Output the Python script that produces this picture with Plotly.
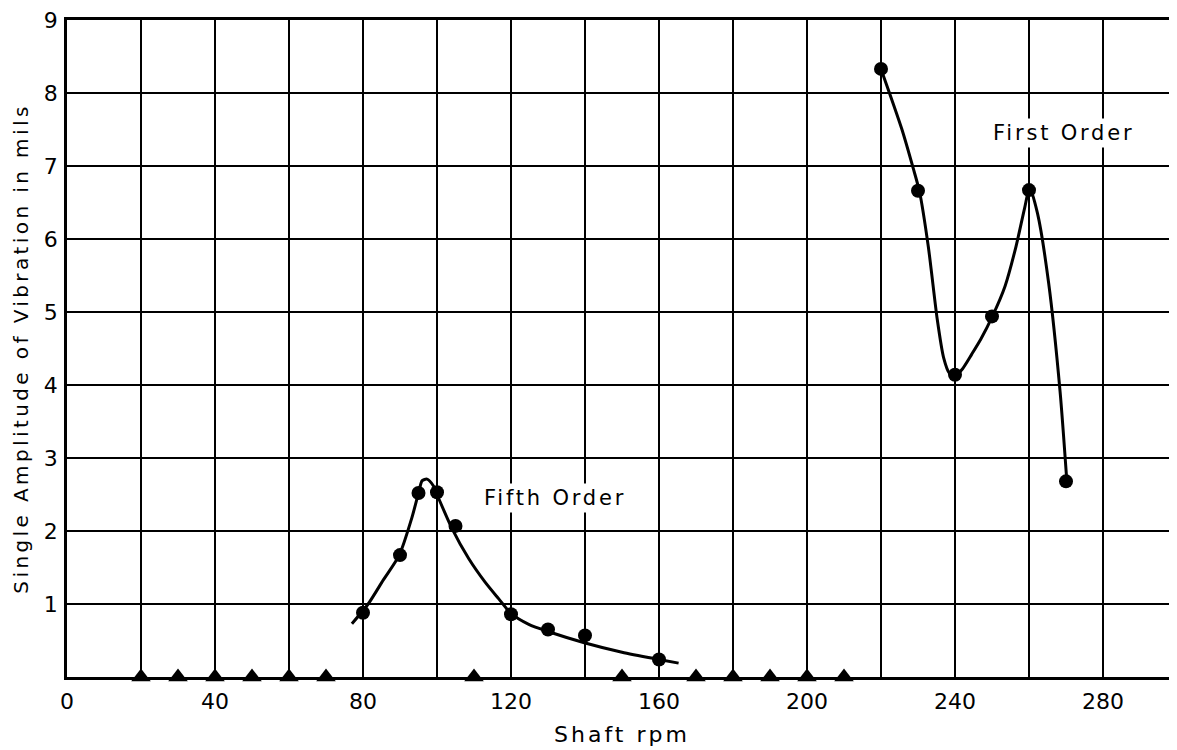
import plotly.graph_objects as go

# ---- data ----
fifth_rpm = [80, 90, 95, 100, 105, 120, 130, 140, 160]
fifth_amp = [0.88, 1.67, 2.52, 2.53, 2.07, 0.86, 0.65, 0.57, 0.24]

fifth_curve_rpm = [77.0, 81.4, 85.5, 89.8, 93.2, 95.0, 96.0, 97.3, 99.0, 100.0, 104.0,
                   108.6, 113.0, 116.7, 120.0, 124.8, 130.2, 139.8, 150.0, 160.0, 165.3]
fifth_curve_amp = [0.73, 1.00, 1.33, 1.67, 2.18, 2.52, 2.69, 2.71, 2.62, 2.50, 2.04,
                   1.62, 1.30, 1.07, 0.87, 0.72, 0.62, 0.47, 0.34, 0.24, 0.19]

first_rpm = [220, 230, 240, 250, 260, 270]
first_amp = [8.33, 6.66, 4.14, 4.94, 6.67, 2.68]

first_curve_rpm = [220.0, 225.6, 228.7, 230.4, 232.8, 235.2, 236.9, 238.5, 240.0, 242.0,
                   244.5, 247.0, 250.1, 253.5, 256.5, 258.8, 260.2, 262.3, 265.3,
                   268.4, 270.2]
first_curve_amp = [8.33, 7.51, 6.97, 6.65, 5.89, 4.90, 4.38, 4.16, 4.12, 4.22,
                   4.42, 4.63, 4.94, 5.35, 5.90, 6.42, 6.70, 6.35, 5.40,
                   3.91, 2.70]

zero_rpm = [20, 30, 40, 50, 60, 70, 110, 150, 170, 180, 190, 200, 210]
zero_amp = [0, 0, 0, 0, 0, 0, 0, 0, 0, 0, 0, 0, 0]

x_tickvals = [0, 20, 40, 60, 80, 100, 120, 140, 160, 180, 200, 220, 240, 260, 280]
x_ticktext = ["0", "", "40", "", "80", "", "120", "", "160", "", "200", "", "240", "", "280"]
y_tickvals = [1, 2, 3, 4, 5, 6, 7, 8, 9]
y_ticktext = ["1", "2", "3", "4", "5", "6", "7", "8", "9"]

labels = ["Fifth Order", "First Order"]
label_rpm = [131.8, 269.3]
label_amp = [2.45, 7.45]

FONT = "DejaVu Sans"
INK = "black"

fig = go.Figure()

fig.add_trace(go.Scatter(x=fifth_curve_rpm, y=fifth_curve_amp, mode="lines",
                         line=dict(color=INK, width=3, shape="spline", smoothing=0.7),
                         hoverinfo="skip", showlegend=False))
fig.add_trace(go.Scatter(x=first_curve_rpm, y=first_curve_amp, mode="lines",
                         line=dict(color=INK, width=3, shape="spline", smoothing=0.7),
                         hoverinfo="skip", showlegend=False))
fig.add_trace(go.Scatter(x=fifth_rpm, y=fifth_amp, mode="markers",
                         marker=dict(symbol="circle", size=14, color=INK),
                         name="Fifth Order", showlegend=False))
fig.add_trace(go.Scatter(x=first_rpm, y=first_amp, mode="markers",
                         marker=dict(symbol="circle", size=14, color=INK),
                         name="First Order", showlegend=False))
fig.add_trace(go.Scatter(x=zero_rpm, y=zero_amp, mode="markers", cliponaxis=False,
                         marker=dict(symbol="triangle-up", size=17, color=INK),
                         name="zero", showlegend=False))

for t, xv, yv in zip(labels, label_rpm, label_amp):
    fig.add_annotation(x=xv, y=yv, text='<span style="letter-spacing:2.8px">' + t + '</span>',
                       showarrow=False, font=dict(family=FONT, size=21, color=INK),
                       bgcolor="white", borderpad=2)

fig.update_layout(
    width=1169, height=742,
    margin=dict(l=59, r=0, t=7, b=73),
    paper_bgcolor="white", plot_bgcolor="white",
    font=dict(family=FONT, color=INK),
    xaxis=dict(range=[0, 300], tickvals=x_tickvals, ticktext=x_ticktext,
               showgrid=True, gridcolor=INK, gridwidth=2.4, zeroline=False,
               showline=True, mirror=True, linecolor=INK, linewidth=2.6, ticks="",
               tickfont=dict(family=FONT, size=22, color=INK), ticklabelstandoff=3,
               ticklabeloverflow="allow",
               title=dict(text='<span style="letter-spacing:3px">Shaft rpm</span>',
                          font=dict(family=FONT, size=22, color=INK), standoff=14)),
    yaxis=dict(range=[0, 9], tickvals=y_tickvals, ticktext=y_ticktext,
               showgrid=True, gridcolor=INK, gridwidth=2.4, zeroline=False,
               showline=True, linecolor=INK, linewidth=2.6, ticks="",
               tickfont=dict(family=FONT, size=22, color=INK), ticklabelstandoff=2,
               ticklabeloverflow="allow",
               title=dict(text='<span style="letter-spacing:3.4px">Single Amplitude of Vibration in mils</span>',
                          font=dict(family=FONT, size=20, color=INK), standoff=10)),
)

fig.write_html("out.html")
